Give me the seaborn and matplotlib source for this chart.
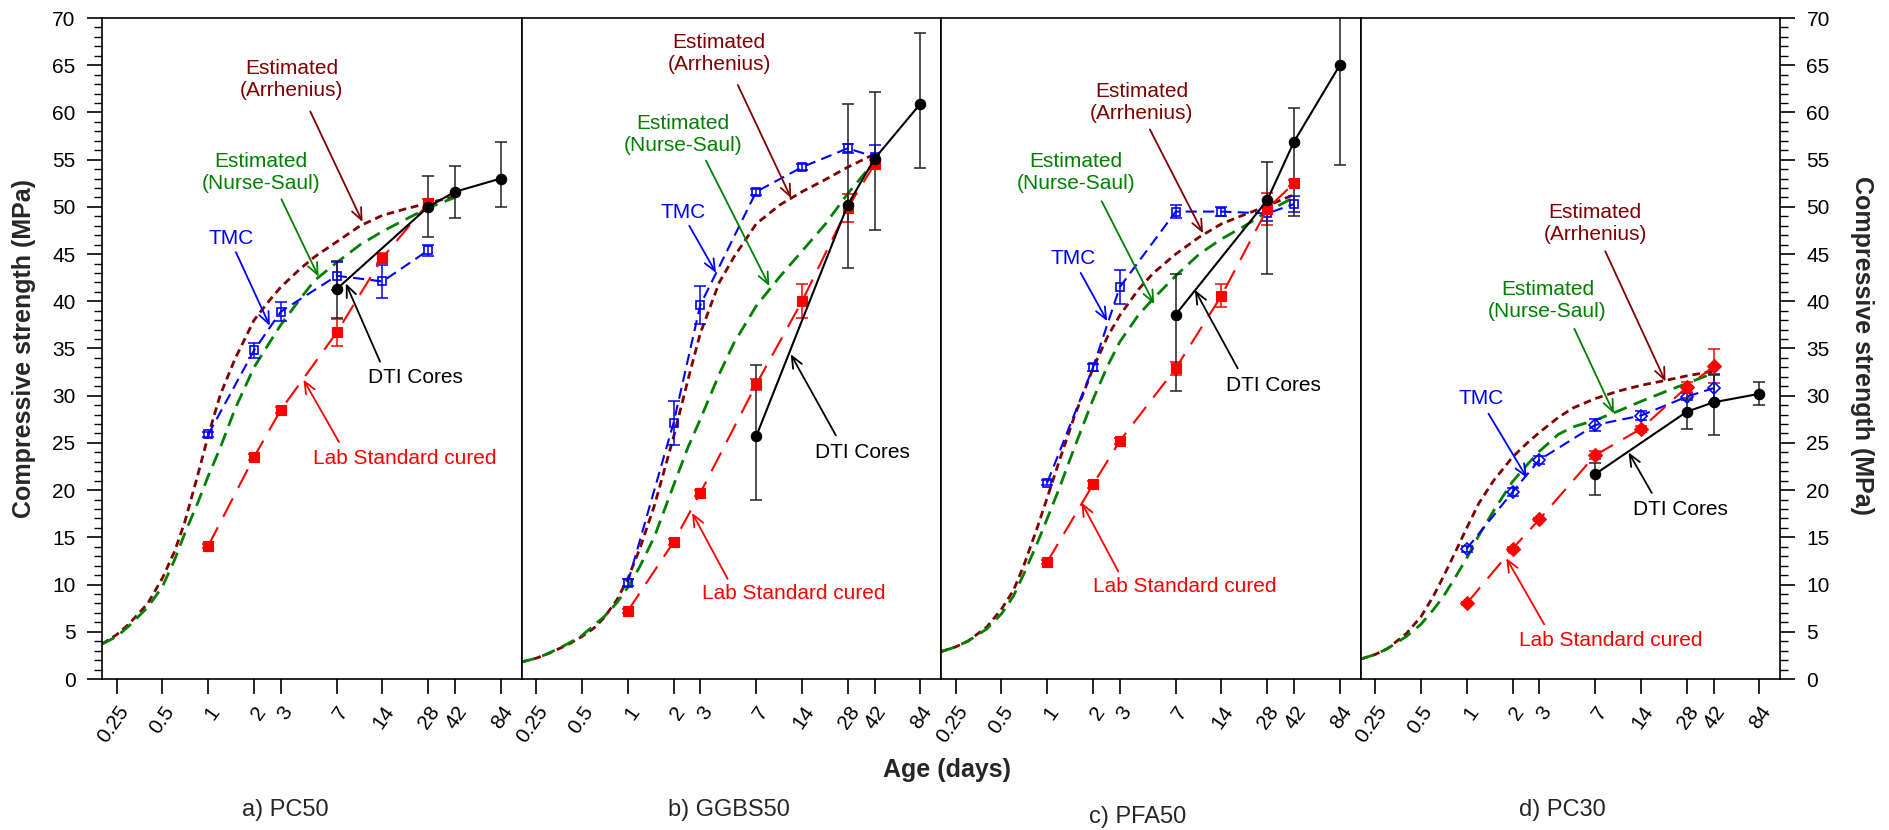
import matplotlib
matplotlib.use("Agg")
import numpy as np
import pandas as pd
import matplotlib.pyplot as plt
import seaborn as sns
from matplotlib.ticker import MultipleLocator, FixedLocator, NullLocator

sns.set_theme(style="ticks")
plt.rcParams['font.family'] = ['Liberation Sans', 'DejaVu Sans']
plt.rcParams['lines.scale_dashes'] = False

# -- data
age_ticks = [0.25, 0.5, 1, 2, 3, 7, 14, 28, 42, 84]
age_tick_labels = ["0.25", "0.5", "1", "2", "3", "7", "14", "28", "42", "84"]

ages_est = [0.2, 0.25, 0.3, 0.4, 0.5, 0.6, 0.7, 0.85, 1, 1.2, 1.5, 2, 2.5, 3, 4, 5, 7, 10, 14, 20, 28, 42]
ages_lab = [1, 2, 3, 7, 14, 28, 42]
ages_dti = [7, 28, 42, 84]

# a) PC50
arr_a = [3.7, 4.7, 5.8, 8.0, 10.7, 13.5, 16.6, 21.5, 25.8, 30.1, 33.9, 38.0, 40.0, 41.5, 43.4, 44.7, 46.3, 48.0, 49.1, 49.8, 50.4, 51.1]
ns_a = [3.7, 4.5, 5.6, 7.6, 9.8, 12.6, 15.4, 18.6, 21.5, 24.5, 28.6, 33.0, 35.5, 37.5, 40.2, 42.2, 44.1, 46.0, 47.4, 48.7, 49.9, 51.0]
tmc_a = [25.9, 34.8, 38.9, 42.7, 42.1, 45.4]
tmc_a_err = [0.3, 0.8, 1.0, 1.5, 1.7, 0.6]
lab_a = [14.1, 23.5, 28.5, 36.7, 44.6, 50.4]
lab_a_err = [0.2, 0.3, 0.3, 1.4, 0.5, 0.4]
dti_a = [41.3, 50.0, 51.6, 53.0]
dti_a_lo = [3.1, 3.2, 2.8, 3.0]
dti_a_hi = [3.0, 3.3, 2.7, 3.9]

# b) GGBS50
arr_b = [1.8, 2.2, 2.7, 3.6, 4.5, 5.4, 6.5, 8.4, 10.6, 13.8, 18.4, 25.6, 31.8, 36.6, 42.0, 44.7, 48.2, 50.2, 51.6, 52.9, 54.2, 55.6]
ns_b = [1.8, 2.2, 2.7, 3.7, 4.6, 5.7, 6.6, 8.1, 9.7, 11.9, 15.1, 20.5, 24.6, 27.5, 32.3, 35.6, 39.5, 42.6, 45.3, 48.2, 51.4, 54.8]
tmc_b = [10.2, 27.1, 39.6, 51.6, 54.2, 56.2, 55.3]
tmc_b_err = [0.4, 2.3, 2.0, 0.3, 0.3, 0.5, 1.3]
lab_b = [7.2, 14.5, 19.7, 31.2, 40.0, 49.9, 54.5]
lab_b_err = [0.2, 0.3, 0.3, 0.6, 1.8, 1.5, 0.5]
dti_b = [25.7, 50.2, 55.1, 60.9]
dti_b_lo = [6.7, 6.7, 7.5, 6.8]
dti_b_hi = [7.5, 10.7, 7.1, 7.5]

# c) PFA50
arr_c = [2.9, 3.4, 4.0, 5.5, 7.4, 9.4, 12.0, 15.8, 19.2, 23.1, 27.7, 32.9, 36.3, 38.5, 41.3, 43.0, 45.0, 46.8, 48.2, 49.2, 50.1, 51.3]
ns_c = [2.9, 3.4, 4.0, 5.3, 6.9, 8.8, 11.1, 14.2, 17.0, 20.2, 24.4, 29.6, 33.2, 35.7, 38.6, 40.3, 42.7, 45.0, 46.6, 48.0, 49.5, 51.0]
tmc_c = [20.8, 33.0, 41.5, 49.5, 49.5, 49.3, 50.3]
tmc_c_err = [0.3, 0.4, 1.8, 0.7, 0.5, 0.8, 0.8]
lab_c = [12.4, 20.6, 25.2, 32.9, 40.6, 49.8, 52.5]
lab_c_err = [0.2, 0.4, 0.3, 0.7, 1.2, 1.7, 0.3]
dti_c = [38.6, 50.7, 56.9, 65.0]
dti_c_lo = [8.1, 7.8, 7.9, 10.6]
dti_c_hi = [4.3, 4.1, 3.6, 8.0]

# d) PC30
arr_d = [2.1, 2.6, 3.2, 4.8, 6.6, 8.7, 10.8, 13.6, 16.0, 18.6, 21.0, 23.5, 25.0, 26.1, 27.7, 28.7, 29.7, 30.5, 31.1, 31.6, 32.1, 32.6]
ns_d = [2.1, 2.6, 3.2, 4.5, 5.8, 7.3, 8.7, 10.9, 12.8, 15.2, 17.8, 20.9, 22.7, 24.1, 25.9, 26.7, 27.4, 28.4, 29.4, 30.4, 31.3, 32.4]
tmc_d = [13.8, 19.8, 23.2, 26.9, 27.9, 29.9, 30.8]
tmc_d_err = [0.3, 0.4, 0.4, 0.6, 0.5, 0.4, 1.5]
lab_d = [8.0, 13.8, 16.9, 23.7, 26.5, 30.9, 33.1]
lab_d_err = [0.2, 0.2, 0.2, 0.4, 0.3, 0.5, 1.8]
dti_d = [21.7, 28.3, 29.3, 30.2]
dti_d_lo = [2.2, 1.8, 3.5, 1.2]
dti_d_hi = [1.2, 1.5, 2.9, 1.2]

captions = ["a) PC50", "b) GGBS50", "c) PFA50", "d) PC30"]

# label text position, arrow start, arrow tip  (age, MPa)
notes_a = [((3.54, 63.5), (4.69, 60.1), (10.35, 48.4)),
           ((2.23, 53.6), (3.03, 50.8), (5.32, 42.6)),
           ((1.41, 46.6), (1.52, 45.2), (2.54, 37.4)),
           ((23.2, 31.9), (13.5, 33.6), (8.03, 41.9)),
           ((19.7, 23.4), (7.24, 25.1), (4.23, 31.7))]
notes_b = [((4.0, 66.2), (5.3, 62.9), (11.9, 50.9)),
           ((2.3, 57.7), (3.27, 54.9), (8.55, 41.6)),
           ((2.30, 49.4), (2.54, 48.0), (3.81, 43.0)),
           ((34.8, 24.0), (23.4, 25.8), (11.8, 34.4)),
           ((12.35, 9.1), (4.54, 10.6), (2.65, 17.6))]
notes_c = [((4.17, 61.0), (4.73, 58.2), (10.6, 47.2)),
           ((1.54, 53.6), (2.28, 50.6), (5.06, 39.7)),
           ((1.48, 44.5), (1.66, 43.0), (2.48, 37.9)),
           ((30.7, 31.1), (17.9, 32.9), (9.36, 41.2)),
           ((8.05, 9.8), (2.93, 11.4), (1.68, 18.7))]
notes_d = [((6.99, 48.2), (8.15, 45.3), (20.3, 31.5)),
           ((3.40, 40.1), (5.1, 37.1), (9.3, 28.1)),
           ((1.24, 29.7), (1.39, 28.1), (2.49, 21.3)),
           ((25.3, 17.9), (16.5, 19.7), (11.6, 24.0)),
           ((8.92, 4.1), (3.23, 5.8), (1.82, 12.8))]

note_texts = ["Estimated\n(Arrhenius)", "Estimated\n(Nurse-Saul)", "TMC", "DTI Cores", "Lab Standard cured"]

c_arr = "#800000"
c_ns = "#008000"
c_tmc = "#0000FF"
c_lab = "#FF0000"
c_dti = "black"
note_colors = [c_arr, c_ns, c_tmc, c_dti, c_lab]

panels = [
    dict(arr=arr_a, ns=ns_a, tmc=tmc_a, tmc_err=tmc_a_err, lab=lab_a, lab_err=lab_a_err,
         dti=dti_a, dti_lo=dti_a_lo, dti_hi=dti_a_hi, notes=notes_a, mk="s"),
    dict(arr=arr_b, ns=ns_b, tmc=tmc_b, tmc_err=tmc_b_err, lab=lab_b, lab_err=lab_b_err,
         dti=dti_b, dti_lo=dti_b_lo, dti_hi=dti_b_hi, notes=notes_b, mk="s"),
    dict(arr=arr_c, ns=ns_c, tmc=tmc_c, tmc_err=tmc_c_err, lab=lab_c, lab_err=lab_c_err,
         dti=dti_c, dti_lo=dti_c_lo, dti_hi=dti_c_hi, notes=notes_c, mk="s"),
    dict(arr=arr_d, ns=ns_d, tmc=tmc_d, tmc_err=tmc_d_err, lab=lab_d, lab_err=lab_d_err,
         dti=dti_d, dti_lo=dti_d_lo, dti_hi=dti_d_hi, notes=notes_d, mk="D"),
]

W, H = 1889, 830
fig, axes = plt.subplots(1, 4, figsize=(W / 100, H / 100), dpi=100, sharey=True)
fig.subplots_adjust(left=102 / W, right=1780 / W, bottom=1 - 679 / H, top=1 - 18 / H, wspace=0)


def dashed(ax, pattern):
    # seaborn may reset the dash style, so set it on the line just drawn
    ax.lines[-1].set_linestyle((0, pattern))


for i, (ax, p) in enumerate(zip(axes, panels)):
    n = len(p["tmc"])
    ages_m = ages_lab[:n]

    # estimated curves
    sns.lineplot(x=ages_est, y=p["arr"], ax=ax, color=c_arr, lw=2.0,
                 sort=False, estimator=None, zorder=2)
    dashed(ax, (5.5, 3.5))
    sns.lineplot(x=ages_est, y=p["ns"], ax=ax, color=c_ns, lw=2.0,
                 sort=False, estimator=None, zorder=2)
    dashed(ax, (10, 5.5))

    # TMC
    ax.errorbar(ages_m, p["tmc"], yerr=p["tmc_err"], fmt="none", ecolor=c_tmc,
                elinewidth=1.1, capsize=4, capthick=1.1, zorder=3)
    sns.lineplot(x=ages_m, y=p["tmc"], ax=ax, color=c_tmc, lw=1.5,
                 marker=p["mk"], markersize=6 if p["mk"] == "D" else 5.5,
                 markerfacecolor="none", mec=c_tmc, mew=1.2, sort=False, estimator=None, zorder=4)
    dashed(ax, (8, 4.5))

    # Lab standard cured
    ax.errorbar(ages_m, p["lab"], yerr=p["lab_err"], fmt="none", ecolor=c_lab,
                elinewidth=1.1, capsize=4, capthick=1.1, zorder=3)
    sns.lineplot(x=ages_m, y=p["lab"], ax=ax, color=c_lab, lw=1.5,
                 marker=p["mk"], markersize=7 if p["mk"] == "D" else 6.5,
                 mec=c_lab, mfc=c_lab, mew=0.8, sort=False, estimator=None, zorder=4)
    dashed(ax, (15, 8.5))

    # DTI cores
    ax.errorbar(ages_dti, p["dti"], yerr=[p["dti_lo"], p["dti_hi"]], fmt="none", ecolor="#222222",
                elinewidth=1.1, capsize=4.5, capthick=1.1, zorder=3)
    sns.lineplot(x=ages_dti, y=p["dti"], ax=ax, color=c_dti, lw=1.5, marker="o",
                 markersize=7.5, mec=c_dti, mfc=c_dti, mew=0.8, sort=False, estimator=None, zorder=5)

    # labels with arrows
    for txt, col, (pos, start, tip) in zip(note_texts, note_colors, p["notes"]):
        ax.text(pos[0], pos[1], txt, color=col, fontsize=15, ha="center", va="center", zorder=6)
        ax.annotate("", xy=tip, xytext=start,
                    arrowprops=dict(arrowstyle="->,head_length=0.7,head_width=0.3", color=col,
                                    lw=1.3, shrinkA=0, shrinkB=0), zorder=6)

    ax.set_xscale("log")
    ax.set_xlim(0.2, 115)
    ax.set_ylim(0, 70)
    ax.xaxis.set_major_locator(FixedLocator(age_ticks))
    ax.xaxis.set_minor_locator(NullLocator())
    ax.set_xticklabels(age_tick_labels, rotation=55, ha="right", rotation_mode="anchor")
    ax.tick_params(axis="x", which="major", direction="out", length=11, width=1.2,
                   labelsize=15, pad=6, top=False, colors="black")
    ax.yaxis.set_major_locator(MultipleLocator(5))
    ax.yaxis.set_minor_locator(MultipleLocator(1))
    ax.tick_params(axis="y", which="major", direction="out", length=11, width=1.2,
                   labelsize=15, pad=8, colors="black")
    ax.tick_params(axis="y", which="minor", direction="out", length=5.5, width=1.0, colors="black")
    ax.set_xlabel("")
    ax.set_ylabel("")
    for s in ax.spines.values():
        s.set_color("black")
        s.set_linewidth(1.2)
    ax.set_facecolor("white")

    if i == 0:
        ax.tick_params(axis="y", which="both", left=True, right=False, labelleft=True)
    elif i == 3:
        ax.tick_params(axis="y", which="both", left=False, right=True,
                       labelleft=False, labelright=True)
    else:
        ax.tick_params(axis="y", which="both", left=False, right=False,
                       labelleft=False, labelright=False)

fig.text(24 / W, 1 - 348 / H, "Compressive strength (MPa)", rotation=90, fontsize=18,
         fontweight="bold", ha="center", va="center")
fig.text(1862 / W, 1 - 345 / H, "Compressive strength (MPa)", rotation=270, fontsize=18,
         fontweight="bold", ha="center", va="center")
fig.text(947 / W, 1 - 770 / H, "Age (days)", fontsize=18, fontweight="bold",
         ha="center", va="center")

for cap, cx, cy in zip(captions, [285, 729, 1138, 1562], [810, 810, 817, 810]):
    fig.text(cx / W, 1 - cy / H, cap, fontsize=17, ha="center", va="center")

fig.savefig("out.png", dpi=100, facecolor="white")
